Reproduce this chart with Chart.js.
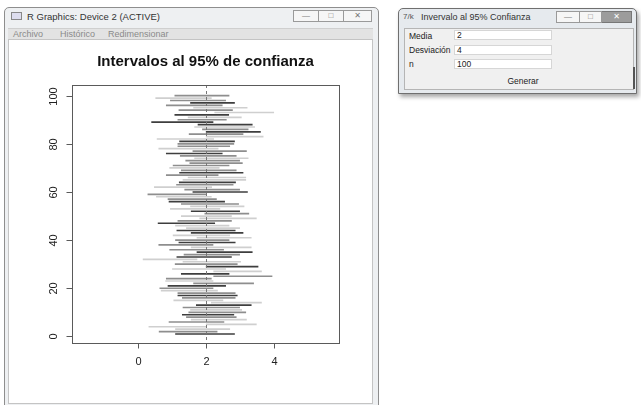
<!DOCTYPE html>
<html>
<head>
<meta charset="utf-8">
<script src="https://cdn.jsdelivr.net/npm/chart.js@4/dist/chart.umd.min.js"></script>
<style>
  html, body { margin: 0; padding: 0; background: #fff; width: 641px; height: 405px; overflow: hidden; }
  body { position: relative; font-family: "Liberation Sans", "DejaVu Sans", sans-serif; }
  .win { position: absolute; box-sizing: border-box; border: 1px solid #8e8e8e; border-radius: 5px 5px 0 0; background: #eef0f2; }
  .ttl { position: absolute; font-size: 9.5px; color: #333; white-space: nowrap; }
  .btns { position: absolute; display: flex; height: 12px; }
  .btns div { box-sizing: border-box; border: 1px solid #9a9a9a; background: #f6f6f6; height: 12px; position: relative; }
  .btns div + div { border-left: none; }
  .btns span { position: absolute; left: 0; right: 0; top: 0; text-align: center; font-size: 8px; line-height: 10px; color: #777; }
  #rwin { left: 4px; top: 7px; width: 375px; height: 400px; }
  #rmenu { position: absolute; left: 3px; top: 20px; width: 365px; height: 10px; background: #e3e3e3; border-top: 1px solid #cfcfcf; font-size: 9px; line-height: 10px; color: #8a8a8a; }
  #rmenu span { position: absolute; top: 0; }
  #rbody { position: absolute; left: 3px; top: 31px; width: 363px; height: 363px; background: #fff; border: 1px solid #c4c4c4; }
  #gwin { left: 398px; top: 8px; width: 239px; height: 86px; background: #e6eaee; box-shadow: 2px 3px 4px rgba(0,0,0,0.35); border-color: #6f6f6f; }
  #gbody { position: absolute; left: 5px; top: 19px; width: 228px; height: 60px; background: #f0f0f0; border: 1px solid #b5b5b5; font-size: 8.5px; color: #222; }
  #gbody .lab { position: absolute; left: 4px; }
  #gbody .inp { position: absolute; left: 49px; width: 98px; height: 10px; background: #fff; border: 1px solid #d6d6d6; line-height: 9px; padding-left: 2px; box-sizing: border-box; }
  #gbtn { position: absolute; left: 100px; width: 36px; top: 45px; height: 14px; text-align: center; line-height: 14px; }
  #gbody .edge { position: absolute; right: -2px; top: 38px; width: 2px; height: 22px; background: #555; }
  #plot { position: absolute; left: 8px; top: 38px; }
</style>
</head>
<body>
<div class="win" id="rwin">
  <div style="position:absolute;left:6px;top:4px;width:9px;height:6px;border:1px solid #888;background:#dde;"></div>
  <div class="ttl" style="left:22px;top:3px;">R Graphics: Device 2 (ACTIVE)</div>
  <div class="btns" style="left:288px;top:2px;">
    <div style="width:26px;"><span>&#8212;</span></div>
    <div style="width:25px;"><span>&#9633;</span></div>
    <div style="width:28px;"><span>&#10005;</span></div>
  </div>
  <div id="rmenu">
    <span style="left:5px;">Archivo</span>
    <span style="left:52px;">Histórico</span>
    <span style="left:100px;">Redimensionar</span>
  </div>
  <div id="rbody"></div>
</div>

<div class="win" id="gwin">
  <div class="ttl" style="left:4px;top:3px;font-size:8px;color:#555;">7/k</div>
  <div class="ttl" style="left:22px;top:3px;font-size:9px;">Invervalo al 95% Confianza</div>
  <div class="btns" style="left:157px;top:2px;">
    <div style="width:24px;"><span>&#8212;</span></div>
    <div style="width:22px;"><span>&#9633;</span></div>
    <div style="width:30px;background:#9c9c9c;border-color:#777;"><span style="color:#fff;">&#10005;</span></div>
  </div>
  <div id="gbody">
    <div class="lab" style="top:2px;">Media</div>
    <div class="inp" style="top:1px;">2</div>
    <div class="lab" style="top:16px;">Desviación</div>
    <div class="inp" style="top:16px;">4</div>
    <div class="lab" style="top:30px;">n</div>
    <div class="inp" style="top:30px;">100</div>
    <div id="gbtn">Generar</div>
    <div class="edge"></div>
  </div>
</div>

<canvas id="plot" width="364" height="364"></canvas>

<script>
// 95% confidence intervals for 100 simulated samples (mean 2, sd 4, n 100)
const lower = [
  1.10, 0.62, 1.10, 0.32, 2.00, 0.91, 1.56, 1.42, 1.30, 1.49,
  1.54, 1.32, 1.71, 2.15, 1.05, 1.30, 1.17, 1.17, 0.68, 0.64,
  0.88, 1.63, 0.81, 0.83, 2.22, 1.27, 2.22, 1.01, 2.00, 1.09,
  1.32, 0.15, 1.14, 1.35, 1.73, 0.93, 1.56, 0.61, 1.20, 1.10,
  1.73, 1.03, 1.56, 1.14, 1.42, 1.10, 0.59, 1.17, 1.81, 1.27,
  1.96, 1.56, 0.95, 1.54, 1.27, 0.91, 0.88, 0.54, 0.29, 1.61,
  1.37, 0.48, 1.13, 1.21, 1.32, 1.47, 0.83, 1.22, 1.27, 0.93,
  1.03, 1.52, 1.40, 1.66, 1.24, 0.83, 1.61, 0.61, 1.17, 1.17,
  1.22, 0.56, 2.00, 1.50, 2.00, 1.89, 1.66, 1.76, 0.40, 1.17,
  1.47, 1.08, 2.25, 1.20, 1.63, 0.83, 1.54, 0.95, 0.52, 1.08
];
const upper = [
  2.83, 2.32, 2.69, 2.00, 3.47, 2.52, 3.18, 2.88, 2.81, 3.16,
  3.04, 2.98, 3.32, 3.62, 2.49, 2.85, 2.91, 2.85, 2.33, 2.20,
  2.57, 3.39, 2.20, 2.15, 3.93, 2.67, 3.62, 2.57, 3.52, 2.91,
  3.01, 1.73, 2.74, 2.98, 3.35, 2.51, 3.32, 2.20, 2.85, 2.67,
  3.32, 2.69, 3.08, 2.85, 2.98, 2.67, 2.25, 2.74, 3.47, 2.74,
  3.25, 2.98, 2.40, 3.11, 2.95, 2.54, 2.30, 2.15, 2.00, 3.21,
  2.98, 2.16, 2.79, 2.86, 3.16, 3.16, 2.35, 3.08, 2.88, 2.38,
  2.67, 3.06, 2.98, 3.23, 2.88, 2.47, 3.18, 2.35, 2.69, 2.81,
  2.83, 2.22, 3.67, 3.08, 3.59, 3.23, 3.42, 3.35, 2.20, 2.59,
  3.03, 2.66, 3.98, 2.77, 3.20, 2.47, 2.83, 2.57, 2.15, 2.67
];
const trueMean = 2;
const xTicks = [0, 2, 4];
const yTicks = [0, 20, 40, 60, 80, 100];
const chartTitle = "Intervalos al 95% de confianza";

// grey tone of each segment: d = dark, m = medium, l = light
const intervalShade = (
  "dmlllmlmdm" + "lmdllmdmlm" + "dmlmmdlldm" + "lldmdmlmdm" + "llddlldmll" +
  "mdllmdmlmd" + "mlmdllmdml" + "mmmlmdmlmm" + "dllmdmlddm" + "ldlmlmdmlm"
).split("");
const greys = { d: "#3e3e3e", m: "#8e8e8e", l: "#cfcfcf" };

const segments = lower.map((lo, k) => ({ y: k + 1, x: [lo, upper[k]] }));

// R-style axes, box, title and reference line drawn from the chart's scales
const rFrame = {
  id: "rFrame",
  afterDatasetsDraw(chart) {
    const { ctx, chartArea: a, scales: { x, y } } = chart;
    ctx.save();
    // dashed line at the true mean
    ctx.strokeStyle = "#777";
    ctx.lineWidth = 1;
    ctx.setLineDash([3, 3]);
    const mx = Math.round(x.getPixelForValue(trueMean)) + 0.5;
    ctx.beginPath(); ctx.moveTo(mx, a.top); ctx.lineTo(mx, a.bottom); ctx.stroke();
    ctx.setLineDash([]);
    // plot box
    ctx.strokeStyle = "#5a5a5a";
    ctx.strokeRect(Math.round(a.left) + 0.5, Math.round(a.top) + 0.5,
                   Math.round(a.right - a.left), Math.round(a.bottom - a.top));
    ctx.fillStyle = "#222";
    ctx.font = "11px 'Liberation Sans', Arial, sans-serif";
    // x axis
    const by = Math.round(a.bottom) + 0.5;
    ctx.textAlign = "center"; ctx.textBaseline = "middle";
    xTicks.forEach(v => {
      const px = Math.round(x.getPixelForValue(v)) + 0.5;
      ctx.beginPath(); ctx.moveTo(px, by); ctx.lineTo(px, by + 5); ctx.stroke();
      ctx.fillText(String(v), px, by + 18);
    });
    // y axis (labels parallel to the axis)
    const lx = Math.round(a.left) + 0.5;
    yTicks.forEach(v => {
      const py = Math.round(y.getPixelForValue(v)) + 0.5;
      ctx.beginPath(); ctx.moveTo(lx - 6, py); ctx.lineTo(lx, py); ctx.stroke();
      ctx.save();
      ctx.translate(lx - 19, py);
      ctx.rotate(-Math.PI / 2);
      ctx.fillText(String(v), 0, 0);
      ctx.restore();
    });
    // title
    ctx.font = "bold 15px 'Liberation Sans', Arial, sans-serif";
    ctx.fillStyle = "#111";
    ctx.fillText(chartTitle, (a.left + a.right) / 2, 24);
    ctx.restore();
  }
};

new Chart(document.getElementById("plot"), {
  type: "bar",
  data: {
    datasets: [{
      data: segments,
      backgroundColor: intervalShade.map(s => greys[s]),
      borderWidth: 0,
      barThickness: 1,
      grouped: false
    }]
  },
  options: {
    indexAxis: "y",
    responsive: false,
    animation: false,
    events: [],
    layout: { padding: { left: 64, top: 47, right: 33, bottom: 59 } },
    scales: {
      x: { type: "linear", min: -1.935, max: 5.894, display: false },
      y: { type: "linear", min: -2.74, max: 104.44, offset: false, display: false }
    },
    plugins: { legend: { display: false }, tooltip: { enabled: false }, title: { display: false } }
  },
  plugins: [rFrame]
});
</script>
</body>
</html>
